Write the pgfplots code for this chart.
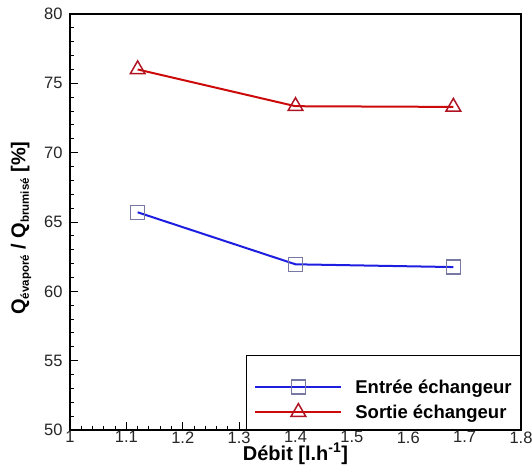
\documentclass[border=0pt]{standalone}
\usepackage{pgfplots}
\pgfplotsset{compat=1.18}
\usepackage{fontspec}
\setmainfont{Liberation Sans}
\definecolor{serblue}{RGB}{30,30,225}
\definecolor{serbluemark}{RGB}{120,120,165}
\definecolor{serred}{RGB}{205,10,10}
\definecolor{serredmark}{RGB}{175,20,35}
\newcommand{\sub}[1]{\raisebox{-3.5pt}{\fontsize{11.5}{13}\selectfont #1}}
\begin{document}
\begin{tikzpicture}
\begin{axis}[
  name=ax,
  scale only axis,
  width=451pt, height=416pt,
  xmin=1, xmax=1.8, ymin=50, ymax=80,
  xtick distance=0.1, ytick distance=5,
  minor x tick num=4, minor y tick num=4,
  tick pos=left, tick align=inside,
  major tick length=8pt, minor tick length=4pt,
  every tick/.style={black, line width=1pt},
  axis line style={line width=1.8pt, black},
  /pgf/number format/assume math mode=true,
  xticklabel style={/pgf/number format/fixed, /pgf/number format/precision=1, yshift=2pt},
  yticklabel style={/pgf/number format/fixed, xshift=-4pt},
  ticklabel style={font=\fontsize{16.5}{19}\selectfont, text=black!85},
  xlabel={\textbf{Débit [l.h\textsuperscript{-1}]}},
  ylabel={\textbf{Q\sub{évaporé} / Q\sub{brumisé} [\%]}},
  label style={font=\fontsize{20}{23}\selectfont},
  xlabel style={yshift=7pt},
  ylabel style={yshift=6pt, xshift=-6pt},
  legend style={at={(rel axis cs:1,0)}, anchor=south east, draw=black, line width=0.7pt,
    font=\bfseries\fontsize{18.5}{21}\selectfont, inner xsep=8pt, inner ysep=9pt,
    row sep=8pt, nodes={inner sep=1pt}, cells={anchor=west}},
  legend image code/.code={\draw[mark repeat=2, mark phase=2] plot coordinates {(0pt,0pt) (43pt,0pt) (86pt,0pt)};
    \path (98pt,0pt);},
]
\addlegendimage{empty legend}
\addlegendentry{\rule{0pt}{3pt}}
\addplot[serblue, line width=2pt, mark=square, mark size=7pt,
  mark options={draw=serbluemark, line width=1.2pt}]
  coordinates {(1.12,65.7) (1.4,61.95) (1.68,61.75)};
\addlegendentry{Entrée échangeur}
\addplot[serred, line width=2pt, mark=triangle, mark size=8.5pt,
  mark options={draw=serredmark, line width=1.5pt}]
  coordinates {(1.12,76.0) (1.4,73.35) (1.68,73.3)};
\addlegendentry{Sortie échangeur}
\end{axis}
\pgfresetboundingbox
\path (ax.south west) ++(-70pt,-40pt) coordinate (bbA);
\path (ax.north east) ++(11pt,14pt) coordinate (bbB);
\useasboundingbox (bbA) rectangle (bbB);
\end{tikzpicture}
\end{document}
